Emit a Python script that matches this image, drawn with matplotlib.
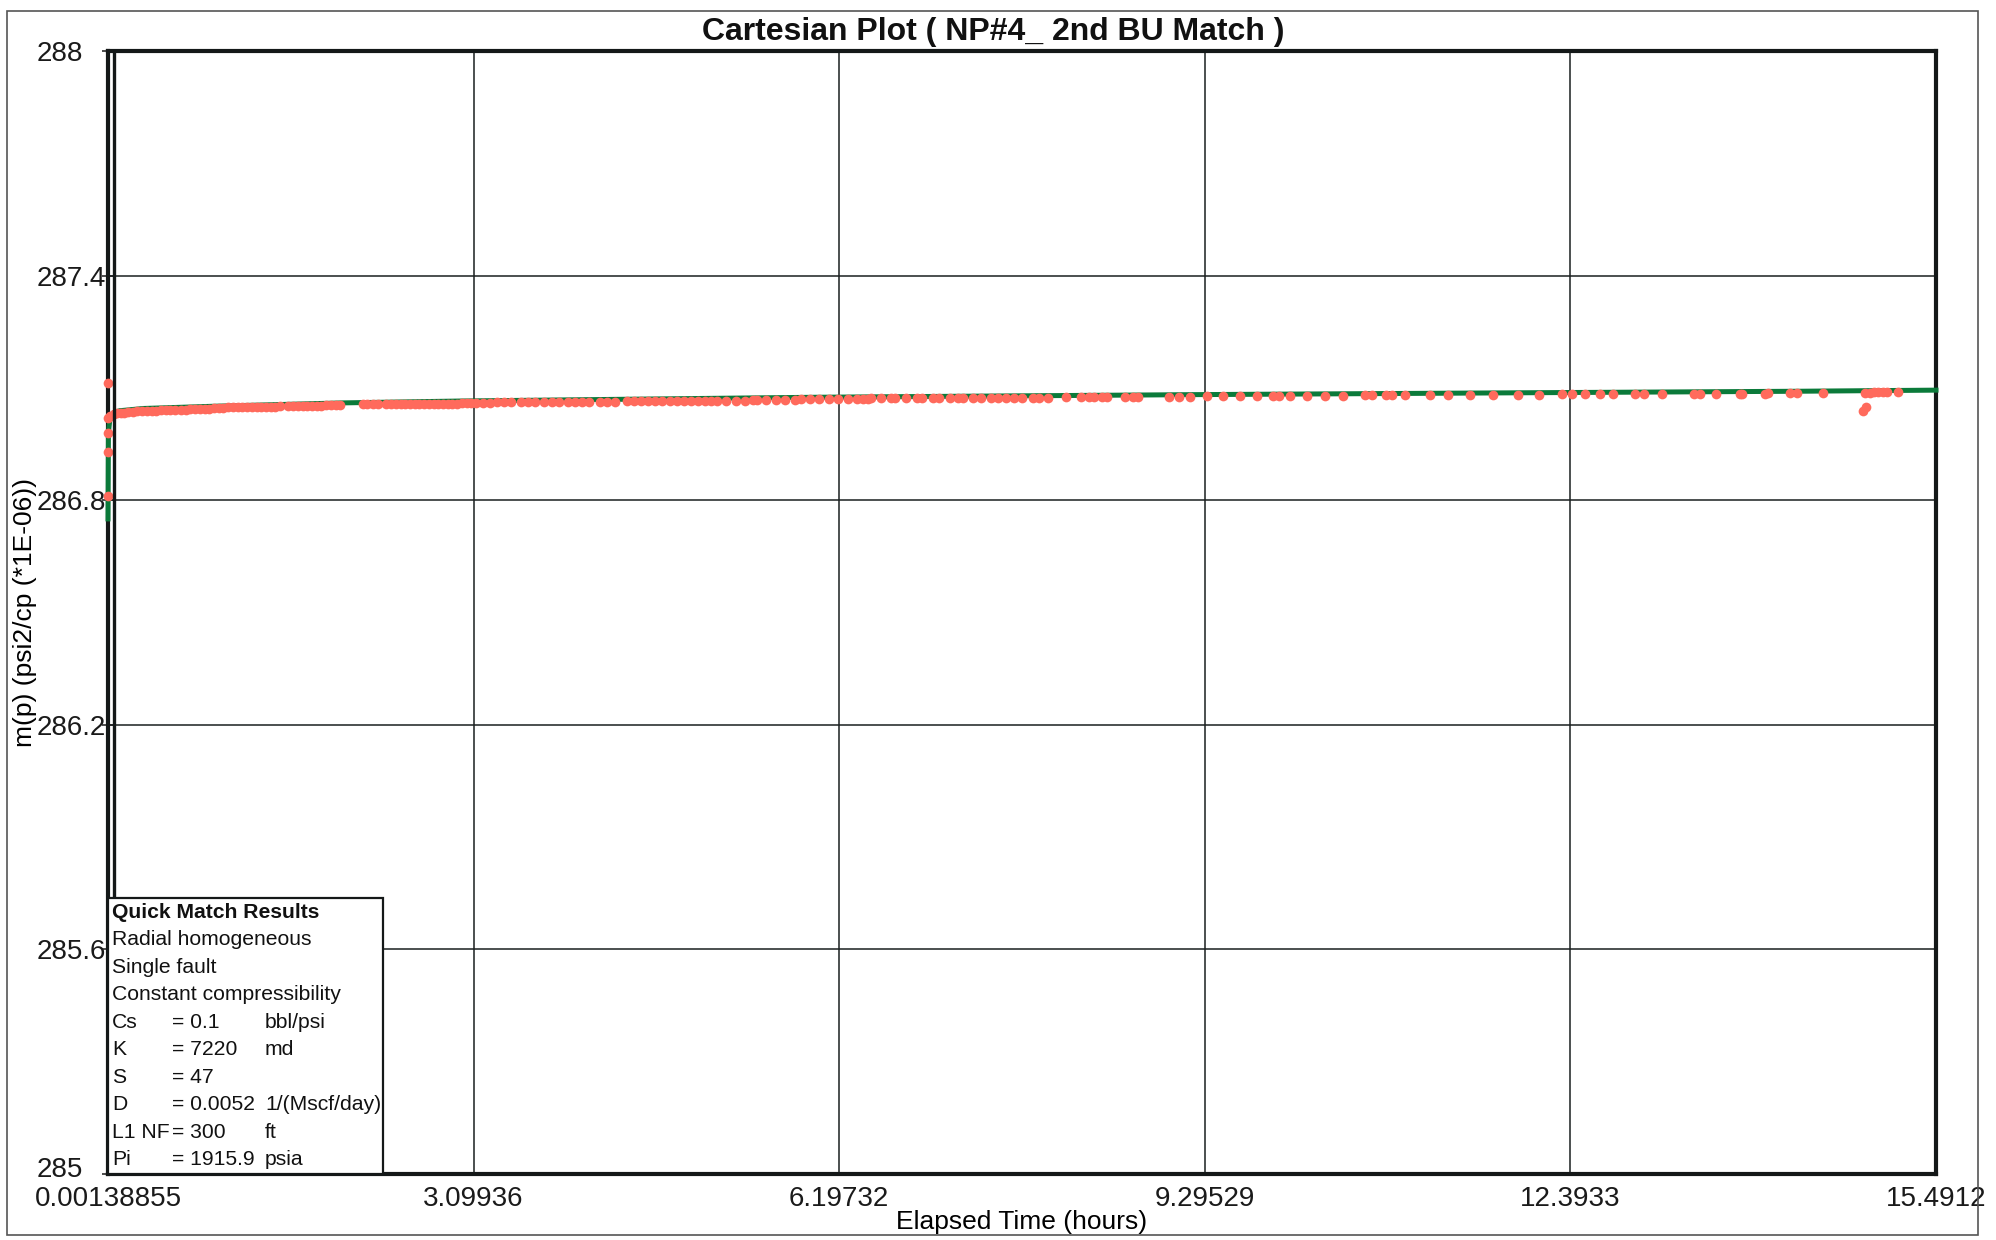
import matplotlib
matplotlib.use('Agg')
import matplotlib.pyplot as plt
import matplotlib.transforms as mtransforms
from matplotlib.patches import Rectangle

plt.rcParams['font.family'] = ['Liberation Sans', 'DejaVu Sans']

# measured points, elapsed time (hours) and m(p) (psi2/cp *1E-06), in runs as they sit on the chart
timeEarly = [0.00139, 0.00139, 0.00139, 0.00139, 0.00139,
             0.02, 0.05, 0.08, 0.11, 0.14, 0.17, 0.21, 0.25, 0.29, 0.33, 0.37, 0.41, 0.45, 0.49, 0.53, 0.57,
             0.62, 0.66, 0.70, 0.74, 0.78, 0.82, 0.86, 0.90, 0.94, 0.98, 1.02, 1.06, 1.10, 1.14, 1.18, 1.22,
             1.26, 1.30, 1.34, 1.38, 1.42, 1.46]
mpEarly   = [287.113, 286.980, 286.930, 286.810, 287.020,
             287.026, 287.030, 287.032, 287.033, 287.034, 287.035, 287.036, 287.037, 287.038, 287.038,
             287.039, 287.039, 287.040, 287.040, 287.041, 287.041,
             287.042, 287.042, 287.043, 287.043, 287.043, 287.044, 287.044, 287.045, 287.045, 287.045,
             287.048, 287.048, 287.048, 287.049, 287.049, 287.049, 287.049, 287.050, 287.050, 287.050,
             287.050, 287.051]

timeMid = [1.53, 1.57, 1.61, 1.65, 1.69, 1.73, 1.77, 1.81, 1.85, 1.89, 1.93, 1.97,
           2.16, 2.20, 2.25, 2.29,
           2.36, 2.40, 2.44, 2.48, 2.52, 2.56, 2.60, 2.64, 2.68, 2.72, 2.76, 2.80, 2.84, 2.88, 2.92, 2.96,
           3.00, 3.04, 3.08, 3.12,
           3.18, 3.24, 3.30, 3.36, 3.42, 3.50, 3.56, 3.62, 3.70, 3.76, 3.82, 3.90, 3.96, 4.02, 4.08, 4.17,
           4.23, 4.30]
mpMid   = [287.051, 287.051, 287.051, 287.052, 287.052, 287.052, 287.052, 287.052, 287.053, 287.053,
           287.053, 287.053,
           287.056, 287.056, 287.056, 287.056,
           287.056, 287.056, 287.056, 287.057, 287.057, 287.057, 287.057, 287.057, 287.057, 287.057,
           287.057, 287.058, 287.058, 287.058, 287.058, 287.058,
           287.060, 287.060, 287.060, 287.060,
           287.060, 287.060, 287.061, 287.061, 287.061, 287.061, 287.061, 287.061, 287.061, 287.061,
           287.061, 287.062, 287.062, 287.062, 287.062, 287.062,
           287.062, 287.062]

timeLate = [4.40, 4.46, 4.52, 4.58, 4.64, 4.70, 4.76, 4.82, 4.88, 4.94, 5.00, 5.06, 5.11,
            5.16, 5.24, 5.32, 5.40, 5.47,
            5.50, 5.58, 5.66, 5.74, 5.82,
            5.87, 5.95, 6.03, 6.11, 6.19, 6.27, 6.35,
            6.40, 6.44, 6.47, 6.55, 6.64, 6.67, 6.76, 6.86, 6.90, 6.99, 7.04, 7.14, 7.20, 7.25, 7.33, 7.40,
            7.48, 7.54, 7.61, 7.68, 7.75, 7.84, 7.89, 7.97, 8.12, 8.25, 8.31, 8.36, 8.42, 8.47, 8.62, 8.69,
            8.73, 8.99, 9.08, 9.17]
mpLate   = [287.064, 287.064, 287.065, 287.065, 287.065, 287.065, 287.065, 287.065, 287.065, 287.065,
            287.066, 287.066, 287.066,
            287.066, 287.066, 287.066, 287.066, 287.067,
            287.069, 287.069, 287.069, 287.069, 287.069,
            287.070, 287.070, 287.070, 287.070, 287.070, 287.070, 287.071,
            287.071, 287.071, 287.072, 287.072, 287.072, 287.072, 287.072, 287.073, 287.073, 287.073,
            287.073, 287.073, 287.073, 287.073, 287.073, 287.073,
            287.074, 287.074, 287.074, 287.074, 287.074, 287.074, 287.074, 287.074, 287.075, 287.076,
            287.076, 287.076, 287.076, 287.076, 287.076, 287.076,
            287.076, 287.076, 287.077, 287.077]

timeEnd = [9.31, 9.45, 9.59, 9.74, 9.87, 9.92, 10.02, 10.16, 10.31, 10.47, 10.65, 10.71, 10.83, 10.88,
           10.99, 11.20, 11.36, 11.54, 11.74, 11.95, 12.13, 12.32, 12.41, 12.52, 12.64, 12.75, 12.94,
           13.02, 13.17, 13.44, 13.49, 13.63, 13.83, 13.85, 14.04, 14.07, 14.25, 14.31, 14.53,
           14.87, 14.90, 14.89, 14.93, 14.97, 15.00, 15.04, 15.08, 15.17]
mpEnd   = [287.078, 287.078, 287.078, 287.079, 287.079, 287.079, 287.079, 287.079, 287.079, 287.079,
           287.080, 287.080, 287.080, 287.080,
           287.081, 287.081, 287.082, 287.082, 287.082, 287.082, 287.082, 287.083, 287.083, 287.083,
           287.083, 287.083, 287.083,
           287.084, 287.085, 287.085, 287.085, 287.085, 287.085, 287.085, 287.085, 287.086, 287.086,
           287.086, 287.086,
           287.038, 287.050, 287.087, 287.087, 287.088, 287.088, 287.088, 287.088, 287.089]

# model match curve
modelTime = [0.00139, 0.005, 0.02, 0.05, 0.1, 0.3, 0.9, 2.0, 3.0, 4.2, 6.0, 9.2, 12.0, 14.3, 15.4912]
modelMp   = [286.75, 286.98, 287.025, 287.034, 287.039, 287.045, 287.051, 287.060, 287.065, 287.069,
             287.075, 287.082, 287.087, 287.091, 287.094]

xTicks = [0.00138855, 3.09936, 6.19732, 9.29529, 12.3933, 15.4912]
xTickLabels = ['0.00138855', '3.09936', '6.19732', '9.29529', '12.3933', '15.4912']
yTicks = [285, 285.6, 286.2, 286.8, 287.4, 288]
yTickLabels = ['285', '285.6', '286.2', '286.8', '287.4', '288']

matchHeader = ['Quick Match Results', 'Radial homogeneous', 'Single fault', 'Constant compressibility']
matchNames  = ['Cs', 'K', 'S', 'D', 'L1 NF', 'Pi']
matchValues = ['= 0.1', '= 7220', '= 47', '= 0.0052', '= 300', '= 1915.9']
matchUnits  = ['bbl/psi', 'md', '', '1/(Mscf/day)', 'ft', 'psia']

obsTime = timeEarly + timeMid + timeLate + timeEnd
obsMp = mpEarly + mpMid + mpLate + mpEnd

W, H = 1996, 1240
fig = plt.figure(figsize=(W / 100, H / 100), dpi=100)
axLeft, axRight, axTop, axBottom = 108, 1936, 51, 1174
ax = fig.add_axes([axLeft / W, 1 - axBottom / H, (axRight - axLeft) / W, (axBottom - axTop) / H])

ax.plot(modelTime, modelMp, color='#0b7a3a', lw=3.6, zorder=3, clip_on=False)
ax.plot(obsTime, obsMp, 'o', color='#ff6a5c', ms=7.0, mec='none', zorder=4, clip_on=False)

ax.set_xlim(xTicks[0], xTicks[-1])
ax.set_ylim(285, 288)
ax.set_xticks(xTicks)
ax.set_xticklabels(xTickLabels)
ax.set_yticks(yTicks)
ax.set_yticklabels(yTickLabels)
ax.grid(True, color='#1a1f1f', lw=1.1)
ax.tick_params(axis='x', length=0, pad=9, labelsize=20, colors='#1a1a1a')
ax.tick_params(axis='y', direction='inout', length=8, width=1.1, pad=0, labelsize=20, colors='#1a1a1a')
for i, lbl in enumerate(ax.get_yticklabels()):
    lbl.set_horizontalalignment('left')
    dy = 0.07 if i == 0 else 0  # lowest label sits just above the x labels
    lbl.set_transform(lbl.get_transform() + mtransforms.ScaledTranslation(-0.66, dy, fig.dpi_scale_trans))
for sp in ax.spines.values():
    sp.set_linewidth(3.0)
    sp.set_color('#141818')

# second line of the double left border
ax.plot([0, 0], [0, 1], color='#141818', lw=2.4, zorder=5,
        transform=ax.transAxes + mtransforms.ScaledTranslation(0.06, 0, fig.dpi_scale_trans))

ax.set_xlabel('Elapsed Time (hours)', fontsize=19, labelpad=4)
ax.set_ylabel('m(p) (psi2/cp (*1E-06))', fontsize=19)
ax.yaxis.set_label_coords(-(axLeft - 25) / (axRight - axLeft), 0.5)
ax.xaxis.set_label_coords((1022 - axLeft) / (axRight - axLeft), -(1222 - axBottom) / (axBottom - axTop))
ax.xaxis.label.set_va('center')
ax.yaxis.label.set_va('center')

fig.text(993 / W, 1 - 32 / H, 'Cartesian Plot ( NP#4_ 2nd BU Match )', ha='center', va='center',
         fontsize=23, fontweight='bold', color='#111')


# quick match box
def axFrac(px, py):
    return (px - axLeft) / (axRight - axLeft), (axBottom - py) / (axBottom - axTop)


bx0, by0 = axFrac(axLeft, axBottom)
bx1, by1 = axFrac(383, 898)
ax.add_patch(Rectangle((bx0, by0), bx1 - bx0, by1 - by0, transform=ax.transAxes,
                       facecolor='white', edgecolor='#141818', lw=1.6, zorder=6))
lineY = 912
for i, txt in enumerate(matchHeader):
    x, y = axFrac(112, lineY)
    ax.text(x, y, txt, transform=ax.transAxes, fontsize=15.2, va='center', ha='left', zorder=7,
            fontweight='bold' if i == 0 else 'normal', color='#111')
    lineY += 27.55
for name, val, unit in zip(matchNames, matchValues, matchUnits):
    for px, txt in [(112, name), (172, val), (265, unit)]:
        x, y = axFrac(px, lineY)
        ax.text(x, y, txt, transform=ax.transAxes, fontsize=15.2, va='center', ha='left', zorder=7,
                color='#111')
    lineY += 27.55

# outer page frame
fig.patches.append(Rectangle((7 / W, 1 - 1235 / H), (1978 - 7) / W, (1235 - 11) / H,
                             transform=fig.transFigure, fill=False, edgecolor='#555', lw=1.2))

fig.savefig('out.png', dpi=100)
